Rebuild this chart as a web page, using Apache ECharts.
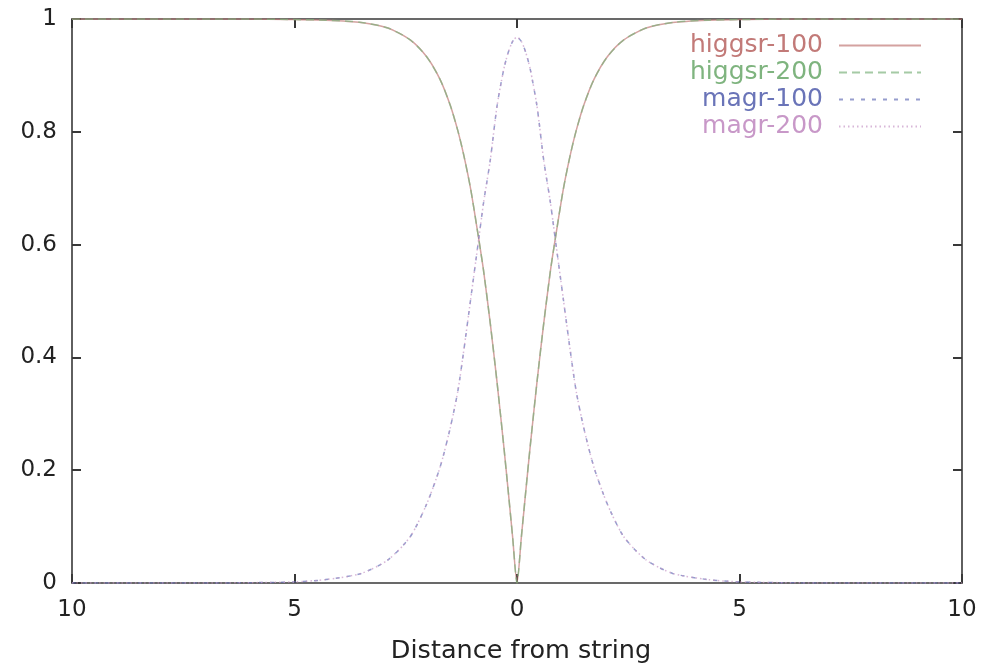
<!DOCTYPE html>
<html>
<head>
<meta charset="utf-8">
<title>Higgs and magnetic field profiles</title>
<script src="https://cdn.jsdelivr.net/npm/echarts@6/dist/echarts.min.js"></script>
<style>
  html, body { margin: 0; padding: 0; background: #ffffff; }
  #chart { width: 984px; height: 669px; }
</style>
</head>
<body>
<div id="chart"></div>
<script>
// Distance from the string core (signed; labels show the magnitude)
const distance = [-10, -9, -8, -7, -6, -5, -4.3, -3.5, -2.9, -2.4, -2.03, -1.73, -1.5, -1.33, -1.2, -1.04, -0.86, -0.75, -0.6, -0.45, -0.3, -0.2, -0.1,
  0,
  0.1, 0.2, 0.3, 0.45, 0.6, 0.75, 0.86, 1.04, 1.2, 1.33, 1.5, 1.73, 2.03, 2.4, 2.9, 3.5, 4.3, 5, 6, 7, 8, 9, 10];

// Higgs field magnitude, two lattice resolutions
const higgsr100 = [1, 1, 1, 1, 1, 0.999, 0.998, 0.994, 0.984, 0.963, 0.933, 0.893, 0.847, 0.802, 0.76, 0.698, 0.61, 0.553, 0.46, 0.357, 0.245, 0.165, 0.083,
  0,
  0.083, 0.165, 0.245, 0.357, 0.46, 0.553, 0.61, 0.698, 0.76, 0.802, 0.847, 0.893, 0.933, 0.963, 0.984, 0.994, 0.998, 0.999, 1, 1, 1, 1, 1];
const higgsr200 = [1, 1, 1, 1, 1, 0.999, 0.998, 0.994, 0.984, 0.963, 0.933, 0.893, 0.847, 0.802, 0.76, 0.698, 0.61, 0.553, 0.46, 0.357, 0.245, 0.165, 0.083,
  0,
  0.083, 0.165, 0.245, 0.357, 0.46, 0.553, 0.61, 0.698, 0.76, 0.802, 0.847, 0.893, 0.933, 0.963, 0.984, 0.994, 0.998, 0.999, 1, 1, 1, 1, 1];

// Magnetic field profile, two lattice resolutions
const magr100 = [0, 0, 0, 0, 0.0005, 0.002, 0.006, 0.017, 0.041, 0.082, 0.14, 0.205, 0.275, 0.34, 0.41, 0.504, 0.61, 0.675, 0.75, 0.845, 0.91, 0.94, 0.96,
  0.968,
  0.96, 0.94, 0.91, 0.845, 0.75, 0.675, 0.61, 0.504, 0.41, 0.34, 0.275, 0.205, 0.14, 0.082, 0.041, 0.017, 0.006, 0.002, 0.0005, 0, 0, 0, 0];
const magr200 = [0, 0, 0, 0, 0.0005, 0.002, 0.006, 0.017, 0.041, 0.082, 0.14, 0.205, 0.275, 0.34, 0.41, 0.504, 0.61, 0.675, 0.75, 0.845, 0.91, 0.94, 0.96,
  0.968,
  0.96, 0.94, 0.91, 0.845, 0.75, 0.675, 0.61, 0.504, 0.41, 0.34, 0.275, 0.205, 0.14, 0.082, 0.041, 0.017, 0.006, 0.002, 0.0005, 0, 0, 0, 0];

const seriesNames = ['higgsr-100', 'higgsr-200', 'magr-100', 'magr-200'];
const seriesColors = ['#c27a78', '#7fb47f', '#6a74b8', '#c898c8'];
const seriesDash = ['solid', [8, 5], [4, 7], [1.5, 3]];
const seriesValues = [higgsr100, higgsr200, magr100, magr200];

const FONT = 'DejaVu Sans';
const FRAME = '#383838';

const pairs = vals => distance.map((d, i) => [d, vals[i]]);

const chart = echarts.init(document.getElementById('chart'), null, { renderer: 'canvas' });

// Shared look for the four sides of the frame: plain border with inward ticks
const frameAxis = () => ({
  axisLine: { show: true, onZero: false, lineStyle: { color: FRAME, width: 1.6 } },
  axisTick: { show: true, inside: true, length: 9, lineStyle: { color: FRAME, width: 2 } },
  splitLine: { show: false }
});

chart.setOption({
  animation: false,
  backgroundColor: '#ffffff',
  grid: { left: 72, right: 22, top: 19, bottom: 83, containLabel: false },
  legend: {
    orient: 'vertical',
    right: 57,
    top: 28,
    align: 'right',
    itemWidth: 82,
    itemHeight: 10,
    itemGap: 2,
    selectedMode: false,
    itemStyle: { opacity: 0, borderWidth: 0 },
    data: seriesNames.map((n, i) => ({
      name: n,
      textStyle: { color: seriesColors[i] }
    })),
    textStyle: {
      fontFamily: FONT,
      fontSize: 25,
      lineHeight: 24,
      padding: [0, 11, 0, 0]
    }
  },
  xAxis: [
    Object.assign(frameAxis(), {
      type: 'value', position: 'bottom', min: -10, max: 10, interval: 5,
      name: 'Distance from string', nameLocation: 'middle', nameGap: 55,
      nameTextStyle: { fontFamily: FONT, fontSize: 25.5, color: '#222', padding: [0, 0, 0, 8] },
      axisLabel: {
        show: true, margin: 16, fontFamily: FONT, fontSize: 23, color: '#222',
        formatter: v => String(Math.abs(v))
      }
    }),
    Object.assign(frameAxis(), {
      type: 'value', position: 'top', min: -10, max: 10, interval: 5,
      axisLabel: { show: false }
    })
  ],
  yAxis: [
    Object.assign(frameAxis(), {
      type: 'value', position: 'left', min: 0, max: 1, interval: 0.2,
      axisLabel: { show: true, margin: 15, fontFamily: FONT, fontSize: 23, color: '#222' }
    }),
    Object.assign(frameAxis(), {
      type: 'value', position: 'right', min: 0, max: 1, interval: 0.2,
      axisLabel: { show: false }
    })
  ],
  series: seriesNames.map((n, i) => ({
    name: n,
    type: 'line',
    xAxisIndex: 0,
    yAxisIndex: 0,
    data: pairs(seriesValues[i]),
    smooth: 0.25,
    showSymbol: false,
    symbol: 'none',
    color: seriesColors[i],
    lineStyle: { color: seriesColors[i], width: 1.5, type: seriesDash[i], opacity: 0.7 },
    z: 2 + i
  }))
});
</script>
</body>
</html>
